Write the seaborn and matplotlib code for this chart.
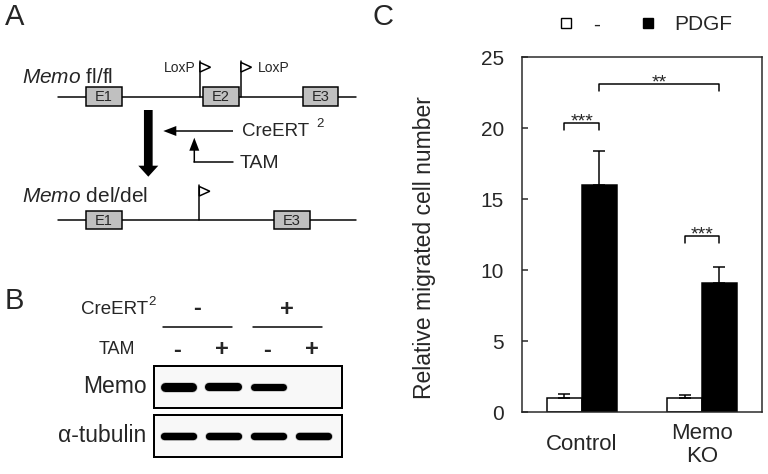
import numpy as np
import pandas as pd
import matplotlib
matplotlib.use('Agg')
import matplotlib.pyplot as plt
from matplotlib.patches import Rectangle, Polygon, FancyArrow
from matplotlib.lines import Line2D
import seaborn as sns

# panel C data
groups = ['Control', 'Memo\nKO']
treatments = ['-', 'PDGF']
mean_minus = [1.0, 1.0]
mean_pdgf = [16.0, 9.1]
err_minus = [0.3, 0.25]
err_pdgf = [2.4, 1.15]
sig_labels = ['***', '**', '***']
sig_heights = [20.4, 23.1, 12.4]
sig_pairs = [(0, 1), (1, 3), (2, 3)]

# panel B data (relative band strength per lane)
lanes_cre = ['-', '-', '+', '+']
lanes_tam = ['-', '+', '-', '+']
memo_signal = [1.0, 0.9, 0.78, 0.0]
tubulin_signal = [1.0, 1.0, 1.0, 1.0]

sns.set_theme(style='ticks')
plt.rcParams['font.family'] = ['Liberation Sans', 'DejaVu Sans']
plt.rcParams['mathtext.fontset'] = 'custom'
plt.rcParams['mathtext.rm'] = 'Liberation Sans'
plt.rcParams['mathtext.it'] = 'Liberation Sans:italic'

fig = plt.figure(figsize=(7.68, 4.74), dpi=100)

# overlay in pixel units for the schematic and the blot
ov = fig.add_axes([0, 0, 1, 1])
ov.set_xlim(0, 768)
ov.set_ylim(474, 0)
ov.axis('off')

PX = 0.72
LW = 1.5 * PX
GRAY = '#c0c0c0'


def exon(x, y, label):
    ov.add_patch(Rectangle((x, y - 9.3), 35.7, 18.7, fc=GRAY, ec='black', lw=LW, zorder=3))
    ov.text(x + 17.85, y + 0.5, label, fontsize=10.5, ha='center', va='center', zorder=4)


def flag(x, ybase, ytop):
    ov.plot([x, x], [ybase, ytop], color='black', lw=LW, zorder=2)
    ov.add_patch(Polygon([(x, ytop + 1.5), (x, ytop + 11), (x + 10.5, ytop + 6.25)],
                         closed=True, fc='white', ec='black', lw=LW, zorder=3))


# ---- panel A ----
ov.text(5, 17, 'A', fontsize=21, va='center')
ov.text(21.7, 77, r'$\mathit{Memo}$ fl/fl', fontsize=15, va='center')
ov.plot([58.3, 356], [96.7, 96.7], color='black', lw=LW, zorder=1)
exon(86, 96.7, 'E1')
exon(203.3, 96.7, 'E2')
exon(302.7, 96.7, 'E3')
flag(200, 96.7, 61)
flag(241, 96.7, 61)
ov.text(196, 67.7, 'LoxP', fontsize=10, ha='right', va='center')
ov.text(258, 67.7, 'LoxP', fontsize=10, ha='left', va='center')

ov.add_patch(FancyArrow(148.3, 110, 0, 66.7, width=8.7, head_width=20, head_length=11,
                        length_includes_head=True, fc='black', ec='none'))
ov.add_patch(FancyArrow(233, 131, -69.7, 0, width=1.5, head_width=10, head_length=13,
                        length_includes_head=True, fc='black', ec='none'))
ov.plot([233, 194.3], [161.7, 161.7], color='black', lw=LW)
ov.add_patch(FancyArrow(194.3, 162.4, 0, -24.7, width=1.5, head_width=10, head_length=13,
                        length_includes_head=True, fc='black', ec='none'))
ov.text(241.7, 131, 'CreERT', fontsize=13.5, va='center')
ov.text(316.7, 124, '2', fontsize=9.5, va='center')
ov.text(240, 163, 'TAM', fontsize=14, va='center')

ov.text(21.7, 196.7, r'$\mathit{Memo}$ del/del', fontsize=15, va='center')
ov.plot([58.3, 356], [220, 220], color='black', lw=LW, zorder=1)
exon(86, 220, 'E1')
exon(274, 220, 'E3')
flag(199.3, 220, 185)

# ---- panel B ----
ov.text(5, 301, 'B', fontsize=21, va='center')
box_left, box_w = 153.5, 188
lane_x = [box_left + 24.8 + 45 * i for i in range(len(lanes_tam))]

ov.text(148, 309.3, 'CreERT', fontsize=13.5, ha='right', va='center')
ov.text(148.5, 302, '2', fontsize=9.5, ha='left', va='center')
for sign in dict.fromkeys(lanes_cre):
    xs = [lane_x[i] for i, s in enumerate(lanes_cre) if s == sign]
    cx = np.mean(xs) - 3.5
    ov.text(cx, 309, sign, fontsize=17, fontweight='bold', ha='center', va='center')
    ov.plot([cx - 34.5, cx + 34.5], [327, 327], color='black', lw=LW)
ov.text(135, 349.3, 'TAM', fontsize=13, ha='right', va='center')
for x, sign in zip(lane_x, lanes_tam):
    ov.text(x - 1, 350, sign, fontsize=17, fontweight='bold', ha='center', va='center')

for top, h, name, sig, thick, ylab in [(365.5, 42.5, 'Memo', memo_signal, 9.0, 386.7),
                                      (415, 41.7, '\u03b1-tubulin', tubulin_signal, 7.3, 435.7)]:
    ov.add_patch(Rectangle((box_left, top), box_w, h, fc='#f8f8f8', ec='black', lw=2.0 * PX))
    ov.text(box_left - 7, ylab, name, fontsize=16.5, ha='right', va='center')
    for x, s in zip(lane_x, sig):
        if s <= 0:
            continue
        w = thick * s
        half = 18.3 - w / 2
        ov.plot([x - half, x + half], [ylab, ylab], color='0.3', alpha=0.3,
                lw=(w + 1.5) * PX, solid_capstyle='round')
        ov.plot([x - half, x + half], [ylab, ylab], color='black',
                lw=w * PX, solid_capstyle='round')

# ---- panel C ----
ov.text(373, 17, 'C', fontsize=21, va='center')
ax = fig.add_axes([521.7 / 768, 1 - 412.3 / 474, 240.3 / 768, 355 / 474])

df = pd.DataFrame({
    'group': groups * 2,
    'treatment': [treatments[0]] * 2 + [treatments[1]] * 2,
    'value': mean_minus + mean_pdgf,
})
sns.barplot(data=df, x='group', y='value', hue='treatment', order=groups,
            hue_order=treatments, palette={'-': 'white', 'PDGF': 'black'},
            edgecolor='black', linewidth=LW, width=0.58, errorbar=None,
            saturation=1, legend=False, ax=ax)

bars = sorted(ax.patches, key=lambda p: p.get_x())
bx = [p.get_x() + p.get_width() / 2 for p in bars]
bh = [p.get_height() for p in bars]
errs = [e for pair in zip(err_minus, err_pdgf) for e in pair]
ax.errorbar(bx, bh, yerr=[np.zeros(len(errs)), errs], fmt='none', ecolor='black',
            elinewidth=LW, capsize=4, capthick=LW, zorder=3)

for (i, j), h, lab in zip(sig_pairs, sig_heights, sig_labels):
    ax.plot([bx[i], bx[i], bx[j], bx[j]], [h - 0.5, h, h, h - 0.5], color='black', lw=LW)
    ax.text((bx[i] + bx[j]) / 2, h - 0.25, lab, fontsize=14, ha='center', va='baseline')

ax.set_xlim(-0.5, 1.5)
ax.set_ylim(0, 25)
ax.set_yticks(range(0, 26, 5))
ax.tick_params(axis='y', direction='in', length=5.5 * PX, width=LW, labelsize=15, pad=12.7)
ax.tick_params(axis='x', length=0, labelsize=16, pad=23.5)
for sp in ax.spines.values():
    sp.set_visible(True)
    sp.set_linewidth(LW)
ax.set_xlabel('')
ax.set_ylabel('Relative migrated cell number', fontsize=16.5)
ax.yaxis.set_label_coords(-0.357, 0.464)
for lab in ax.get_xticklabels():
    lab.set_va('center')
    lab.set_linespacing(1.1)

handles = [Line2D([], [], marker='s', ls='none', ms=7.5, mfc=c, mec='black', mew=1.0)
           for c in ['white', 'black']]
fig.legend(handles, treatments, loc='center', bbox_to_anchor=(645 / 768, 1 - 25 / 474),
           ncol=2, frameon=False, fontsize=15, handlelength=0.8, handletextpad=0.9,
           columnspacing=1.9)

fig.savefig('out.png', dpi=100)
